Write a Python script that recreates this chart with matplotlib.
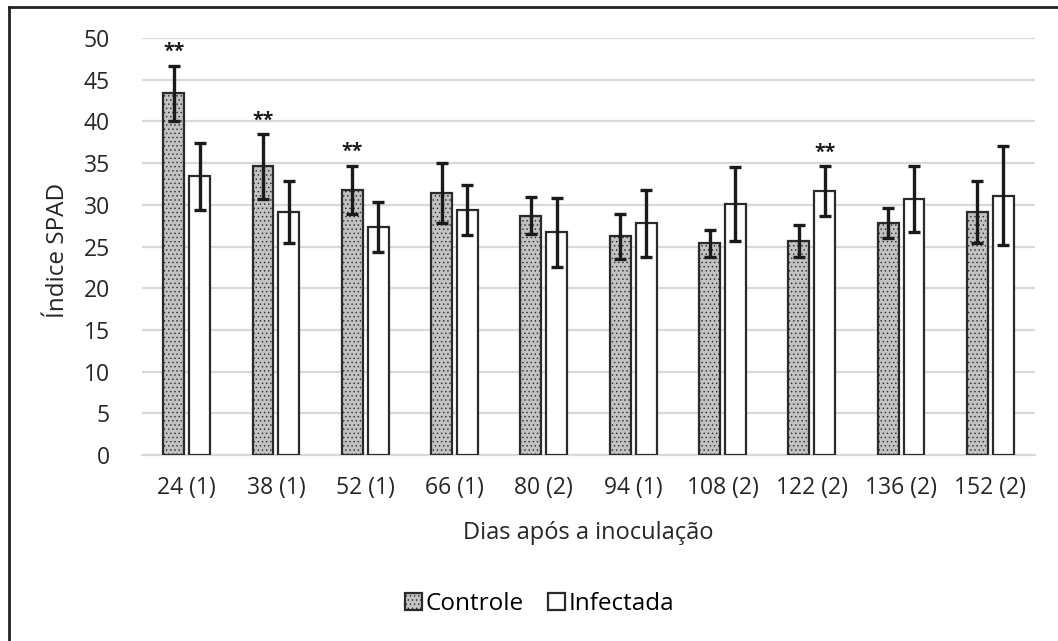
import matplotlib
matplotlib.use("Agg")
import matplotlib.pyplot as plt
from matplotlib.lines import Line2D
import numpy as np

categories = ["24 (1)", "38 (1)", "52 (1)", "66 (1)", "80 (2)", "94 (1)",
              "108 (2)", "122 (2)", "136 (2)", "152 (2)"]
controle = [43.4, 34.6, 31.8, 31.4, 28.7, 26.2, 25.4, 25.7, 27.8, 29.1]
controle_err = [3.3, 3.9, 2.9, 3.6, 2.2, 2.7, 1.6, 1.9, 1.8, 3.7]
infectada = [33.4, 29.1, 27.3, 29.4, 26.7, 27.8, 30.1, 31.6, 30.7, 31.1]
infectada_err = [4.0, 3.7, 3.0, 3.0, 4.1, 4.0, 4.4, 3.0, 4.0, 5.95]
sig_controle = [True, True, True, False, False, False, False, False, False, False]
sig_infectada = [False, False, False, False, False, False, False, True, False, False]

plt.rcParams['font.family'] = ['Open Sans', 'DejaVu Sans']
plt.rcParams['hatch.color'] = '#a8a8a8'
plt.rcParams['hatch.linewidth'] = 0.5

W, H = 1058, 641
fig = plt.figure(figsize=(W / 100, H / 100), dpi=100)
ax = fig.add_axes([142 / W, 1 - 455 / H, (1035 - 142) / W, (455 - 38) / H])

x = np.arange(len(categories))
w = 0.235
off = 0.145
ek = dict(ecolor='#1a1a1a', elinewidth=2.4, capsize=4.5, capthick=2.4)
ax.bar(x - off, controle, w, yerr=controle_err, color='#c2c2c2', edgecolor='#2a2a2a',
       linewidth=1.6, hatch='....', error_kw=ek, label='Controle', zorder=3)
ax.bar(x + off, infectada, w, yerr=infectada_err, color='white', edgecolor='#2a2a2a',
       linewidth=1.6, error_kw=ek, label='Infectada', zorder=3)

for i in range(len(categories)):
    if sig_controle[i]:
        ax.text(x[i] - off, controle[i] + controle_err[i] + 0.4, "**", ha='center',
                va='bottom', fontsize=14, fontweight='bold', color='#1a1a1a')
    if sig_infectada[i]:
        ax.text(x[i] + off, infectada[i] + infectada_err[i] + 0.4, "**", ha='center',
                va='bottom', fontsize=14, fontweight='bold', color='#1a1a1a')

ax.set_xlim(-0.5, len(categories) - 0.5)
ax.set_ylim(0, 50)
ax.set_yticks(range(0, 51, 5))
ax.set_xticks(x)
ax.set_xticklabels(categories)
ax.tick_params(axis='both', length=0, labelsize=16.5, colors='#262626')
ax.tick_params(axis='x', pad=15)
ax.tick_params(axis='y', pad=23)
ax.grid(axis='y', color='#d9d9d9', linewidth=1.6, zorder=0)
for s in ['top', 'right', 'left']:
    ax.spines[s].set_visible(False)
ax.spines['bottom'].set_color('#d9d9d9')
ax.spines['bottom'].set_linewidth(1.6)

fig.text(58 / W, 1 - 250 / H, "Índice SPAD", rotation=90, ha='center', va='center',
         fontsize=17.5, color='#262626')
fig.text(588 / W, 1 - 533 / H, "Dias após a inoculação", ha='center',
         va='center', fontsize=17, color='#262626')

fig.legend(loc='center', bbox_to_anchor=(540 / W, 1 - 604 / H), ncol=2,
           frameon=False, fontsize=17.5, handlelength=0.7, handleheight=0.7,
           handletextpad=0.15, columnspacing=1.0)

fig.add_artist(Line2D([9 / W, 9 / W], [0, 1 - 7 / H], transform=fig.transFigure,
                      color='#222222', linewidth=2))
fig.add_artist(Line2D([9 / W, 1], [1 - 7 / H, 1 - 7 / H], transform=fig.transFigure,
                      color='#222222', linewidth=2))
fig.savefig("out.png", dpi=100)
